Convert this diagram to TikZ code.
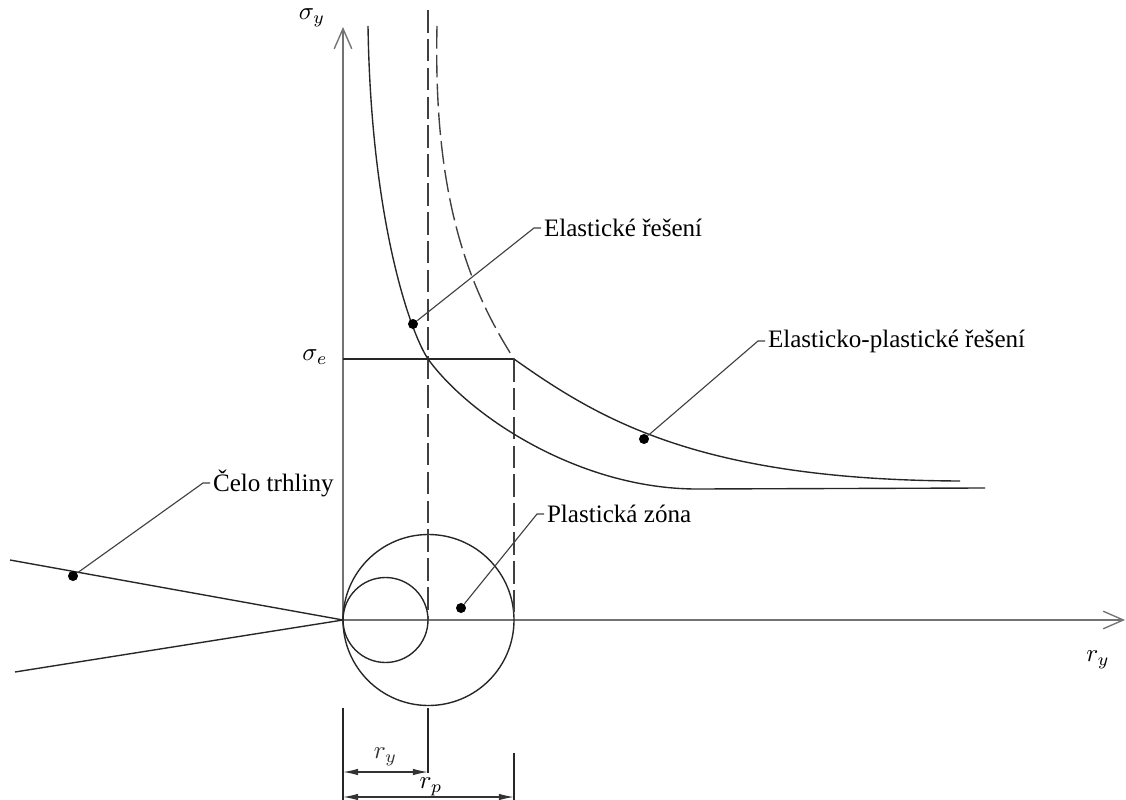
\documentclass[tikz,border=0pt]{standalone}
\usepackage{amsmath}
\usepackage{fontspec}
\setmainfont{Liberation Serif}
\usepackage{tikz}
\usetikzlibrary{arrows.meta,calc}

\begin{document}
\begin{tikzpicture}[x=0.014cm,y=-0.014cm,>=latex]
			\tikzstyle{line}=[line width=0.55pt,black!85]
			\tikzstyle{axis}=[line width=0.55pt,black!55,-{Straight Barb[length=8pt,width=7pt]}]
			\tikzstyle{hidden}=[line width=0.55pt,black!75,dash pattern=on 9pt off 2.5pt]
			\tikzstyle{dimline}=[line width=0.5pt,black!80,{Latex[length=6pt,width=2.6pt]}-{Latex[length=6pt,width=2.6pt]}]
			\tikzstyle{leader}=[line width=0.45pt,black!75]
			\tikzstyle{dot}=[circle,fill=black,inner sep=0pt,minimum size=4pt]
			\tikzstyle{lbl}=[inner sep=1pt,anchor=west]

			\useasboundingbox (0,0) rectangle (1126,800);

			\coordinate (O) at (343,620);

			% osy
			\draw [axis] (O) -- (343,27) coordinate (ytop);
			\draw [axis] (O) -- (1125,620) coordinate (xend);
			\node (sy) [inner sep=1pt] at (312,18) {$\sigma_y$};
			\node (ry) at (1098,660) {$r_y$};

			% celo trhliny
			\draw [line] (O) -- (10,560);
			\draw [line] (O) -- (15,672);

			% plasticke zony
			\draw [line] (385.5,620) circle (42.5);
			\draw [line] (428.5,620) circle (85.5);

			% sigma_e
			\draw [line] (O |- 0,359) -- (514,359);
			\node (se) at (315,357) {$\sigma_e$};

			% svisle carkovane
			\draw [hidden] (428,10) -- (428,620);
			\draw [hidden] (514,359) -- (514,620);

			% elasticke reseni
			\draw [line] (368,26) .. controls (371,220) and (410,332) .. (428,359)
				.. controls (470,417) and (580,489) .. (697,489) -- (985,488);

			% elasticko-plasticke reseni
			\draw [hidden] (437,26) .. controls (433,200) and (470,290) .. (514,359);
			\draw [line] (514,359) .. controls (600,420) and (700,480) .. (960,481);

			% popisky
			\node (E1) [dot] at (413,324) {};
			\node (E2) [lbl] at (541,228) {Elastické řešení};
			\draw [leader] (E1) -- ($(E2.west)+(-7,0)$) -- (E2.west);

			\node (EP1) [dot] at (644,439) {};
			\node (EP2) [lbl] at (765,341) {Elasticko-plastické řešení};
			\draw [leader] (EP1) -- ($(EP2.west)+(-7,0)$) -- (EP2.west);

			\node (C1) [dot] at (73,576) {};
			\node (C2) [lbl] at (210,483) {Čelo trhliny};
			\draw [leader] (C1) -- ($(C2.west)+(-7,0)$) -- (C2.west);

			\node (P1) [dot] at (461,608) {};
			\node (P2) [lbl] at (544,514) {Plastická zóna};
			\draw [leader] (P1) -- ($(P2.west)+(-7,0)$) -- (P2.west);

			% koty
			\draw [line] (343,708) -- (343,800);
			\draw [line] (428,708) -- (428,773);
			\draw [line] (514,753) -- (514,800);
			\draw [dimline] (343,772) -- (428,772) node[midway, above=-1pt] (dy) {$r_y$};
			\draw [dimline] (343,797) -- (514,797);
			\node (dp) at (431,787) {$r_p$};
		\end{tikzpicture}
\end{document}
